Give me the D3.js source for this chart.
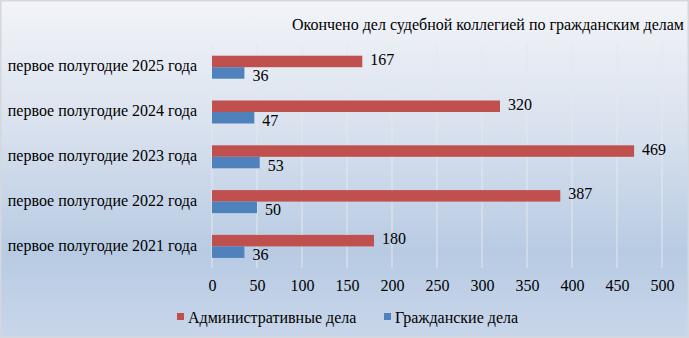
<!DOCTYPE html>
<html><head><meta charset="utf-8">
<script src="https://cdn.jsdelivr.net/npm/d3@7"></script>
<style>body{margin:0;}svg{display:block;} text{font-family:"Liberation Serif","Times New Roman",Times,serif;}</style>
</head><body>
<script>
const categories = ["первое полугодие 2025 года","первое полугодие 2024 года","первое полугодие 2023 года","первое полугодие 2022 года","первое полугодие 2021 года"];
const adminValues = [167, 320, 469, 387, 180];
const civilValues = [36, 47, 53, 50, 36];
const seriesNames = ["Административные дела","Гражданские дела"];
const tickValues = [0,50,100,150,200,250,300,350,400,450,500];
const title = "Окончено дел судебной коллегией по гражданским делам";

const W = 689, H = 338;
const fs = 16;
const ff = "Liberation Serif";
const svg = d3.select("body").append("svg").attr("width", W).attr("height", H);
const defs = svg.append("defs");
const grad = defs.append("linearGradient").attr("id","bg").attr("x1",0).attr("y1",0).attr("x2",0).attr("y2",1);
grad.append("stop").attr("offset","0%").attr("stop-color","#f2f4f8");
grad.append("stop").attr("offset","35%").attr("stop-color","#dbe3ef");
grad.append("stop").attr("offset","75%").attr("stop-color","#b8cbe3");
grad.append("stop").attr("offset","100%").attr("stop-color","#c8d6ea");
svg.append("rect").attr("x",0.5).attr("y",0.5).attr("width",W-1).attr("height",H-1)
  .attr("fill","url(#bg)").attr("stroke","#d4d8dc").attr("stroke-width",2);

const x = d3.scaleLinear().domain([0,500]).range([212,662]);
const y = d3.scaleBand().domain(categories).range([44,268]).paddingInner(0).paddingOuter(0);
const barH = 11.5;

svg.append("g").selectAll("line").data(tickValues).join("line")
  .attr("x1",d=>x(d)).attr("x2",d=>x(d)).attr("y1",44).attr("y2",268)
  .attr("stroke","#e4e8ee").attr("stroke-width",1);

svg.append("text").attr("x",684).attr("y",30).attr("text-anchor","end")
  .attr("font-family",ff).attr("font-size",fs).attr("fill","#000").text(title);

svg.append("g").selectAll("text").data(categories).join("text")
  .attr("x",197).attr("y",d=>y(d)+y.bandwidth()/2+5).attr("text-anchor","end")
  .attr("font-family",ff).attr("font-size",fs).attr("fill","#000").text(d=>d);

const data = categories.map((c,i)=>({c, a:adminValues[i], v:civilValues[i]}));
const mid = d=>y(d.c)+y.bandwidth()/2+0.8;

svg.append("g").selectAll("rect").data(data).join("rect")
  .attr("x",x(0)).attr("y",d=>mid(d)-barH).attr("width",d=>x(d.a)-x(0)).attr("height",barH)
  .attr("fill","#c0504d");
svg.append("g").selectAll("rect").data(data).join("rect")
  .attr("x",x(0)).attr("y",d=>mid(d)).attr("width",d=>x(d.v)-x(0)).attr("height",barH)
  .attr("fill","#4f81bd");

svg.append("g").selectAll("text").data(data).join("text")
  .attr("x",d=>x(d.a)+8).attr("y",d=>mid(d)-barH/2+3.5).attr("font-family",ff).attr("font-size",fs)
  .text(d=>d.a);
svg.append("g").selectAll("text").data(data).join("text")
  .attr("x",d=>x(d.v)+8).attr("y",d=>mid(d)+barH/2+8).attr("font-family",ff).attr("font-size",fs)
  .text(d=>d.v);

const ax = svg.append("g").attr("transform","translate(0,268)")
  .call(d3.axisBottom(x).tickValues(tickValues).tickSize(0).tickPadding(12));
ax.select(".domain").remove();
ax.attr("font-family",ff);
ax.selectAll("text").attr("font-family",ff).attr("font-size",fs).attr("fill","#000");

const leg = [{n:seriesNames[0],c:"#c0504d",x:177},{n:seriesNames[1],c:"#4f81bd",x:384}];
const lg = svg.append("g").selectAll("g").data(leg).join("g");
lg.append("rect").attr("x",d=>d.x).attr("y",313).attr("width",7).attr("height",7).attr("fill",d=>d.c);
lg.append("text").attr("x",d=>d.x+11).attr("y",323).attr("font-family",ff).attr("font-size",fs)
  .text(d=>d.n);
</script>
</body></html>
